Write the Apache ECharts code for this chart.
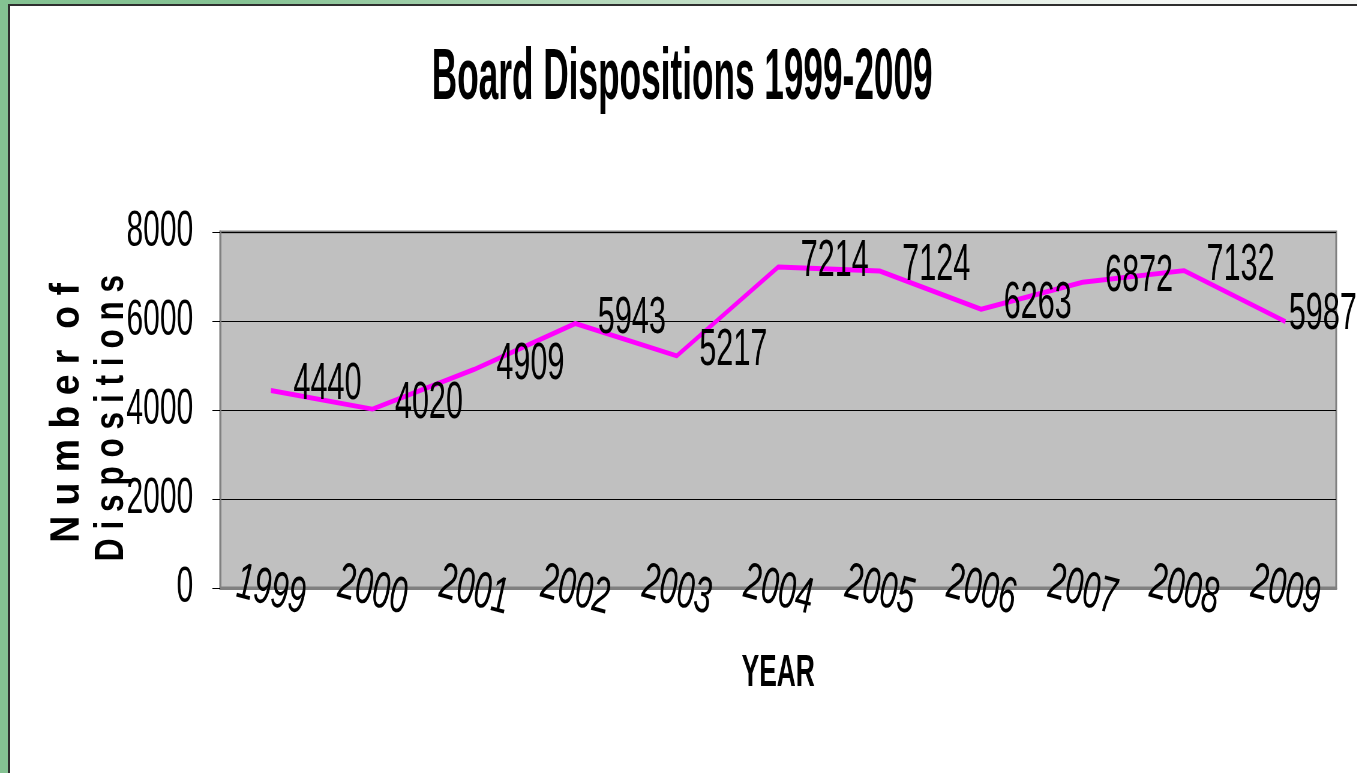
<!DOCTYPE html>
<html>
<head>
<meta charset="utf-8">
<title>Board Dispositions 1999-2009</title>
<script src="https://cdn.jsdelivr.net/npm/echarts@6/dist/echarts.min.js"></script>
<style>
  html, body { margin: 0; padding: 0; background: #fff; overflow: hidden; }
  body { width: 1357px; height: 773px; position: relative; }
  /* the reference picture is squeezed sideways, so the chart is drawn wide and scaled down */
  #chart { position: absolute; left: 0; top: 0; width: 2262px; height: 773px; transform: scaleX(0.6); transform-origin: 0 0; }
  .frame-left { position: absolute; left: 0; top: 0; width: 8px; height: 773px; background: #84c292; }
  .frame-top { position: absolute; left: 0; top: 0; width: 1357px; height: 4px;
    background: linear-gradient(to right, #84c292 0%, #86c394 18%, #c9e2cc 55%, #f3f6f3 85%, #f7f8f7 100%); }
  .line-left { position: absolute; left: 8px; top: 4px; width: 2px; height: 769px; background: #2e2e2e; }
  .line-top { position: absolute; left: 8px; top: 4px; width: 1349px; height: 2px; background: #2e2e2e; }
</style>
</head>
<body>
<div id="chart"></div>
<div class="frame-left"></div>
<div class="frame-top"></div>
<div class="line-left"></div>
<div class="line-top"></div>
<script>
var years = ['1999', '2000', '2001', '2002', '2003', '2004', '2005', '2006', '2007', '2008', '2009'];
var dispositions = [4440, 4020, 4909, 5943, 5217, 7214, 7124, 6263, 6872, 7132, 5987];
var yMin = 0, yMax = 8000, yStep = 2000;

var font = '"Liberation Sans", Arial, sans-serif';

var chart = echarts.init(document.getElementById('chart'));

// last label sits almost on its point, like in the picture
var seriesData = dispositions.map(function (v, i) {
  if (i === dispositions.length - 1) {
    return { value: v, label: { distance: 5, offset: [0, -7] } };
  }
  return v;
});

chart.setOption({
  animation: false,
  backgroundColor: 'transparent',
  grid: {
    left: 367,
    right: 35,
    top: 232,
    bottom: 185,
    show: true,
    backgroundColor: '#c0c0c0',
    borderColor: '#808080',
    borderWidth: 3,
    outerBoundsMode: 'none'
  },
  graphic: [
    {
      type: 'text',
      x: 1137,
      y: 79,
      scaleX: 0.815,
      style: {
        text: 'Board Dispositions 1999-2009',
        font: 'bold 72px ' + font,
        fill: '#000',
        textAlign: 'center', align: 'center',
        textVerticalAlign: 'middle', verticalAlign: 'middle'
      }
    },
    {
      type: 'text',
      x: 112,
      y: 413,
      rotation: Math.PI / 2,
      scaleX: 1.1,
      scaleY: 2,
      style: {
        text: 'N u m b e r  o f',
        font: 'bold 34px ' + font,
        fill: '#000',
        textAlign: 'center', align: 'center',
        textVerticalAlign: 'middle', verticalAlign: 'middle'
      }
    },
    {
      type: 'text',
      x: 186,
      y: 418,
      rotation: Math.PI / 2,
      scaleX: 0.93,
      scaleY: 2,
      style: {
        text: 'D i s p o s i t i o n s',
        font: 'bold 34px ' + font,
        fill: '#000',
        textAlign: 'center', align: 'center',
        textVerticalAlign: 'middle', verticalAlign: 'middle'
      }
    }
  ],
  xAxis: {
    type: 'category',
    data: years,
    boundaryGap: true,
    name: 'YEAR',
    nameLocation: 'middle',
    nameGap: 86,
    nameTextStyle: {
      fontFamily: font,
      fontWeight: 'bold',
      fontSize: 44,
      color: '#000',
      verticalAlign: 'middle'
    },
    axisLine: { show: true, lineStyle: { color: '#808080', width: 3 } },
    axisTick: { show: false },
    axisLabel: {
      fontFamily: font,
      fontStyle: 'italic',
      fontSize: 52,
      color: '#000',
      rotate: -9,
      align: 'center',
      verticalAlign: 'middle',
      margin: 3,
      interval: 0
    },
    splitLine: { show: false }
  },
  yAxis: {
    type: 'value',
    min: yMin,
    max: yMax,
    interval: yStep,
    axisLine: { show: true, lineStyle: { color: '#808080', width: 3 } },
    axisTick: { show: true, length: 13, lineStyle: { color: '#000', width: 1 } },
    axisLabel: {
      fontFamily: font,
      fontSize: 50,
      color: '#000',
      margin: 45,
      formatter: function (v) { return String(v); }
    },
    splitLine: { show: true, lineStyle: { color: '#000', width: 1 } }
  },
  series: [
    {
      type: 'line',
      data: seriesData,
      symbol: 'circle',
      symbolSize: 1,
      showSymbol: true,
      itemStyle: { color: 'transparent' },
      lineStyle: { color: '#ff00ff', width: 5 },
      label: {
        show: true,
        position: 'right',
        distance: 37,
        offset: [0, -5],
        fontFamily: font,
        fontSize: 51,
        color: '#000'
      },
      emphasis: { disabled: true },
      z: 3
    }
  ]
});
</script>
</body>
</html>
